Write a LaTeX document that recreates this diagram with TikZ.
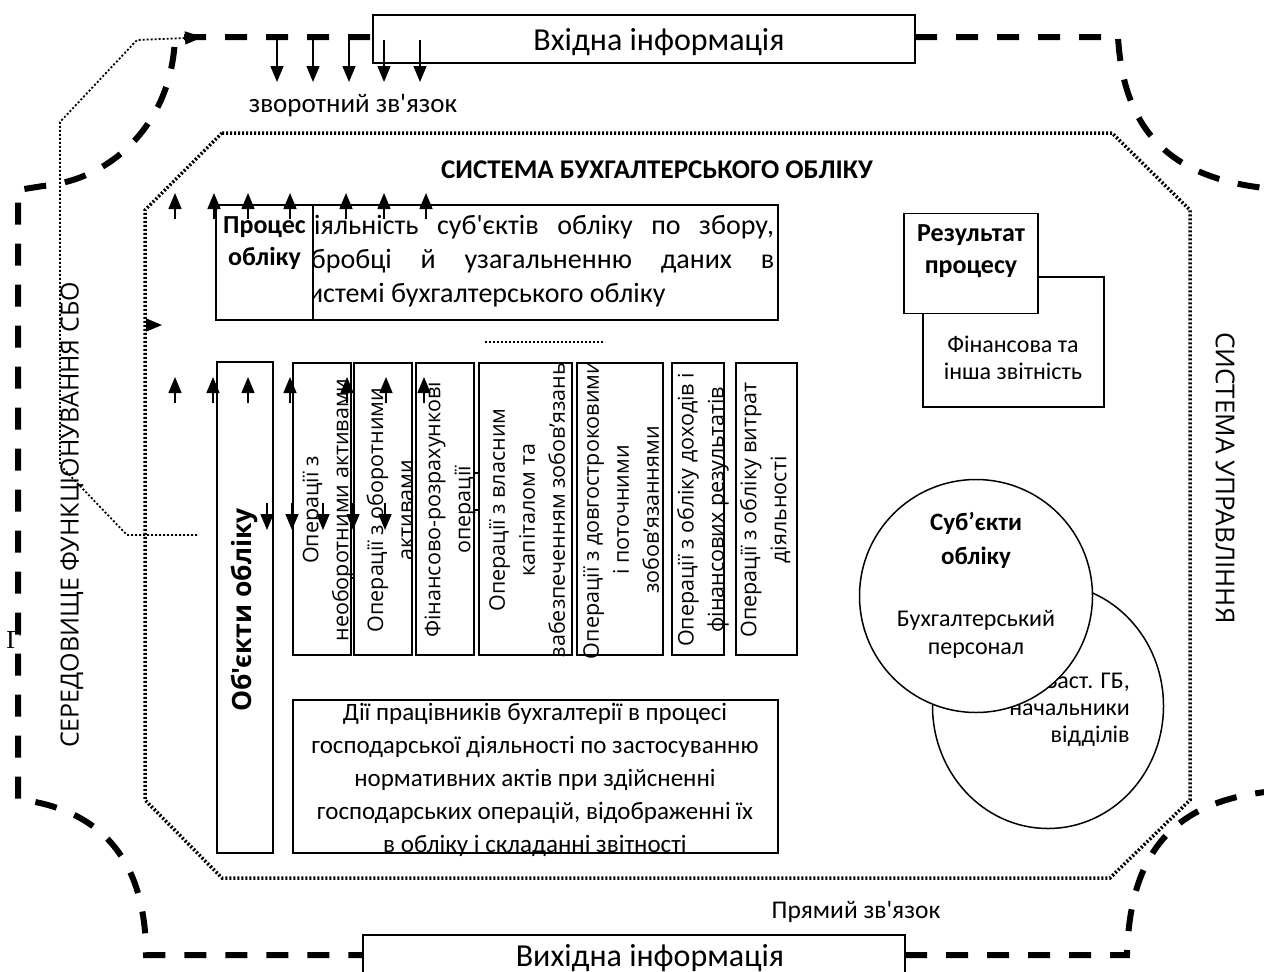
\documentclass[tikz,border=0pt]{standalone}
\usepackage{fontspec}
\newfontfamily\calfont{Carlito}
\newfontfamily\opfont{Open Sans}
\newfontfamily\glyphfont{Liberation Serif}
\usetikzlibrary{arrows.meta, shapes.geometric}

\begin{document}
\begin{tikzpicture}[
    x=1pt, y=-1pt,
    box/.style={draw, line width=1.5pt, fill=white, inner sep=0pt, outer sep=0pt},
    lbl/.style={font=\calfont\fontsize{25}{33}\selectfont, align=center, inner sep=0pt},
    hdr/.style={lbl, font=\calfont\bfseries\fontsize{26}{32}\selectfont},
    small/.style={lbl, font=\calfont\fontsize{24}{27}\selectfont},
    optxt/.style={font=\opfont\fontsize{21.5}{30}\selectfont, align=center,
                  rotate=90, inner sep=0pt},
    side/.style={font=\opfont\fontsize{25}{28}\selectfont, inner sep=0pt},
    env/.style={line width=6pt, dash pattern=on 22pt off 19pt},
    sysline/.style={line width=3.5pt, dash pattern=on 2pt off 2pt},
    fbline/.style={line width=1.8pt, dash pattern=on 2pt off 2pt},
    arr/.style={line width=1.5pt, -{Triangle[width=13pt,length=16pt]}}
  ]
  \useasboundingbox (0,0) rectangle (1264,972);
  \clip (0,0) rectangle (1264,972);

  % environment
  \draw[env] (370,37) -- (175,37) .. controls (172,125) and (110,180) .. (43,186)
    -- (18,190) -- (18,800) -- (30,801) .. controls (110,815) and (146,870) .. (146,955)
    -- (363,955);
  \draw[env] (905,955) -- (1127,955) .. controls (1130,845) and (1180,795) .. (1290,790);
  \draw[env] (915,37) -- (1118,37) .. controls (1124,140) and (1180,185) .. (1290,190);

  % accounting system border
  \draw[sysline] (222,133) -- (1112,133) -- (1190,210) -- (1190,800) -- (1110,878)
    -- (222,878) -- (145,800) -- (145,210) -- cycle;
  \node[hdr, font=\calfont\bfseries\fontsize{27}{30}\selectfont] (sbo) at (657,170)
    {СИСТЕМА БУХГАЛТЕРСЬКОГО ОБЛІКУ};

  % feedback line
  \coordinate (fbend) at (203,37);
  \draw[fbline] (197,535) -- (127,535) -- (60,465) -- (60,122) -- (137,40) -- (186,38);
  \draw[line width=1.3pt, -{Triangle[width=13pt,length=18pt]}] (184,38) -- (fbend);

  % input and output
  \node[box, minimum width=542pt, minimum height=48pt] (vkhid) at (644,39) {};
  \node[lbl, font=\calfont\fontsize{32}{36}\selectfont] at (659,42) {Вхідна інформація};
  \node[box, minimum width=542pt, minimum height=60pt, anchor=north west] (vykhid)
    at (363,935) {};
  \node[lbl, font=\calfont\fontsize{32}{36}\selectfont] at (650,958) {Вихідна інформація};
  \node[lbl, font=\calfont\fontsize{27}{30}\selectfont] (zvor) at (353,106)
    {зворотний зв'язок};
  \node[lbl, font=\calfont\fontsize{25.5}{30}\selectfont] (pryam) at (856,912)
    {Прямий зв'язок};

  % process
  \node[box, minimum width=488pt, minimum height=115pt] (diial) at (534,262.5) {};
  \node[lbl, font=\calfont\fontsize{28}{34}\selectfont, text width=478pt,
        align=justify, anchor=north west] at (296,215)
    {Діяльність суб'єктів обліку по збору,\linebreak обробці й узагальненню даних
     в\linebreak системі бухгалтерського обліку};
  \node[box, minimum width=97pt, minimum height=115pt] (proces) at (264.5,262.5) {};
  \node[hdr, anchor=north] at (264.5,216) {Процес\\обліку};
  \draw[fbline, line width=1.3pt] (485,342) -- (605,342);

  % result
  \node[box, minimum width=181pt, minimum height=130pt] (zvit) at (1013.5,342) {};
  \node[small] at (1013,358) {Фінансова та\\інша звітність};
  \node[box, minimum width=134pt, minimum height=100pt] (rezult) at (971,263.5) {};
  \node[hdr] at (971,251) {Результат\\процесу};

  % subjects
  \node[draw, ellipse, line width=1.5pt, fill=white, minimum width=231pt,
        minimum height=245pt, inner sep=0pt] (kerivn) at (1048,706) {};
  \node[small, align=right, anchor=east] at (1130,710) {Заст. ГБ,\\начальники\\відділів};
  \node[draw, circle, line width=1.5pt, fill=white, minimum size=233pt,
        inner sep=0pt] (subj) at (976,596) {};
  \node[hdr, font=\calfont\bfseries\fontsize{25}{34}\selectfont] at (976,540)
    {Суб’єкти\\обліку};
  \node[small, font=\calfont\fontsize{24}{28}\selectfont] at (976,634)
    {Бухгалтерський\\персонал};

  % objects
  \node[box, minimum width=56pt, minimum height=491pt] (obiekty) at (245,607.5) {};
  \node[font=\opfont\bfseries\fontsize{26.5}{30}\selectfont, rotate=90, inner sep=0pt]
    at (245,610) {Об'єкти обліку};
  \foreach \n/\cx/\w/\tx/\txt in {
      op1/322/58/328/{Операції з\\необоротними активами},
      op2/383/58/390/{Операції з оборотними\\активами},
      op3/445/58/450/{Фінансово-розрахункові\\операції},
      op4/525.5/93/527/{Операції з власним\\капіталом та\\забезпеченням зобов’язань},
      op5/620/86/621/{Операції з довгостроковими\\і поточними\\зобов’язаннями},
      op6/698/52/703/{Операції з обліку доходів і\\фінансових результатів},
      op7/766.5/61/765/{Операції з обліку витрат\\діяльності}} {
    \node[box, minimum width=\w pt, minimum height=292pt] (\n) at (\cx,509) {};
    \node[optxt] at (\tx,510) {\txt};
  }
  \draw[line width=1.5pt] (op3.east |- 0,473) -- (op4.west |- 0,473);
  \draw[line width=1.5pt] (op3.east |- 0,510) -- (op4.west |- 0,510);
  \draw[line width=1.5pt] (op1.east |- 0,578) -- (op2.west |- 0,578);

  % actions of staff
  \node[box, minimum width=485pt, minimum height=153pt] (dii) at (535.5,776.5) {};
  \node[lbl, anchor=north] at (535,703)
    {Дії працівників бухгалтерії в процесі\\господарської діяльності по застосуванню\\
     нормативних актів при здійсненні\\господарських операцій, відображенні їх\\
     в обліку і складанні звітності};

  % arrows
  \foreach \x in {277,313,349,384,420} \draw[arr] (\x,40) -- (\x,82);
  \foreach \x in {175,214,248,290,346,384,426} \draw[arr] (\x,219) -- (\x,193);
  \foreach \x in {175,213,248,290,347,386,424} \draw[arr] (\x,403) -- (\x,377);
  \foreach \x in {267,292,323,353,385} \draw[arr] (\x,503) -- (\x,530);
  \draw[arr] (146,325) -- (162,325);

  % side labels
  \node[side, rotate=90] (sered) at (72,515) {СЕРЕДОВИЩЕ ФУНКЦІОНУВАННЯ СБО};
  \node[side, font=\opfont\fontsize{26}{28}\selectfont, rotate=-90] (upravl)
    at (1225,478) {СИСТЕМА УПРАВЛІННЯ};
  \node[font=\glyphfont\fontsize{26}{26}\selectfont, inner sep=0pt] at (14,640) {Г};
\end{tikzpicture}
\end{document}
